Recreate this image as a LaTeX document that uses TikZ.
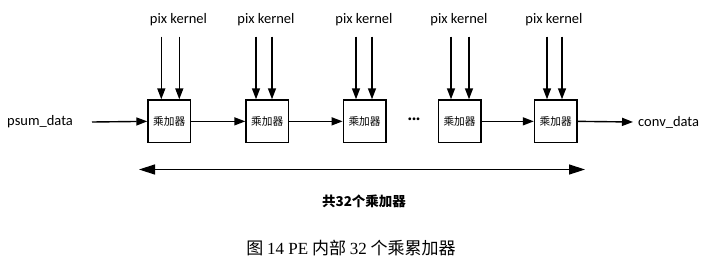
\documentclass[tikz,border=0pt]{standalone}
\usepackage{fontspec}
\setmainfont{Carlito}
\newfontfamily\cjk{Noto Sans CJK SC}
\newfontfamily\serifl{Liberation Serif}
\usetikzlibrary{arrows.meta}
\begin{document}
\begin{tikzpicture}[x=1pt,y=-1pt,
  mac/.style={draw,line width=1.4pt,minimum width=42.5pt,minimum height=42.7pt,inner sep=0pt,font=\cjk\fontsize{10.7}{12}\selectfont},
  lbl/.style={font=\fontsize{14.5}{16}\selectfont,inner sep=0pt},
  conn/.style={line width=1.4pt,-{Triangle[length=11pt,width=8pt]}},
  span/.style={line width=1.4pt,{Triangle[length=16pt,width=10pt]}-{Triangle[length=16pt,width=10pt]}}]
\useasboundingbox (0,0) rectangle (711,263);
% boxes
\node[mac] (b1) at (169.25,121.35) {乘加器};
\node[mac] (b2) at (267.25,121.35) {乘加器};
\node[mac] (b3) at (364.55,121.35) {乘加器};
\node[mac] (b4) at (459.55,121.35) {乘加器};
\node[mac] (b5) at (555.75,121.35) {乘加器};
% top labels
\node[lbl] (t1) at (178.5,20) {pix kernel};
\node[lbl] (t2) at (266,20) {pix kernel};
\node[lbl] (t3) at (364,20) {pix kernel};
\node[lbl] (t4) at (459,20) {pix kernel};
\node[lbl] (t5) at (554,20) {pix kernel};
% top arrow starts
\coordinate (p1a) at (161.3,36.7); \coordinate (p1b) at (179.3,36.7);
\coordinate (p2a) at (256,36.7);   \coordinate (p2b) at (272,36.7);
\coordinate (p3a) at (356,36.7);   \coordinate (p3b) at (372,36.7);
\coordinate (p4a) at (451,36.7);   \coordinate (p4b) at (469,36.7);
\coordinate (p5a) at (547,36.7);   \coordinate (p5b) at (562,36.7);
\foreach \i in {1,...,5}{
  \draw[conn] (p\i a) -- (p\i a |- b\i.north);
  \draw[conn] (p\i b) -- (p\i b |- b\i.north);
}
% horizontal chain
\node[lbl,anchor=west] (psum) at (7,122) {psum\_data};
\coordinate (in) at (92,122);
\draw[conn] (in) -- (b1.west);
\draw[conn] (b1.east) -- (b2.west);
\draw[conn] (b2.east) -- (b3.west);
\node[inner sep=0pt,font=\bfseries\fontsize{15}{16}\selectfont] (dots) at (414,121) {···};
\draw[conn] (b4.east) -- (b5.west);
\coordinate (out) at (633,122);
\draw[conn] (b5.east) -- (out);
\node[lbl,anchor=west] (conv) at (638,122) {conv\_data};
% span arrow
\coordinate (sl) at (139,169.5);
\coordinate (sr) at (585,169.5);
\draw[span] (sl) -- (sr);
\node[inner sep=0pt,font=\cjk\bfseries\fontsize{13.5}{15}\selectfont] (cnt) at (364,201.5) {共32个乘加器};
% caption
\node[inner sep=0pt,font=\fontsize{17}{19}\selectfont] (cap) at (351,248) {{\cjk 图} {\serifl 14 PE} {\cjk 内部} {\serifl 32} {\cjk 个乘累加器}};
\end{tikzpicture}
\end{document}
